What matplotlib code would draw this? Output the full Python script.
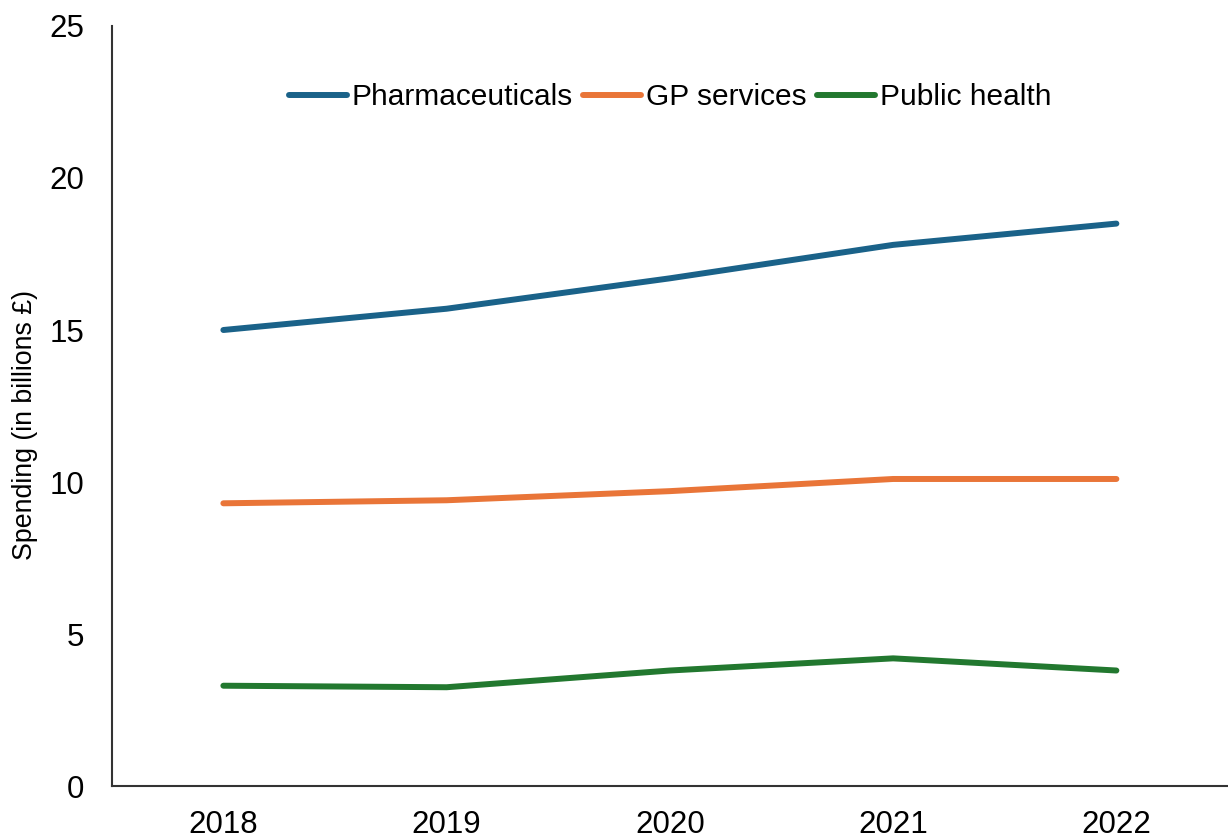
import matplotlib
matplotlib.use("Agg")
import matplotlib.pyplot as plt

years = ['2018', '2019', '2020', '2021', '2022']
pharmaceuticals = [15.0, 15.7, 16.7, 17.8, 18.5]
gp_services = [9.3, 9.4, 9.7, 10.1, 10.1]
public_health = [3.3, 3.25, 3.8, 4.2, 3.8]

plt.rcParams['font.family'] = ['Liberation Sans', 'DejaVu Sans']

fig = plt.figure(figsize=(12.28, 8.38), dpi=100)
ax = fig.add_axes([0.091, 0.062, 0.909, 0.907])

x = range(len(years))
ax.plot(x, pharmaceuticals, color='#1A6289', lw=4.3, label='Pharmaceuticals', solid_capstyle='round')
ax.plot(x, gp_services, color='#E97538', lw=4.3, label='GP services', solid_capstyle='round')
ax.plot(x, public_health, color='#22782F', lw=4.3, label='Public health', solid_capstyle='round')

ax.set_xlim(-0.5, 4.5)
ax.set_ylim(0, 25)
ax.set_xticks(list(x))
ax.set_xticklabels(years)
ax.set_yticks([0, 5, 10, 15, 20, 25])
ax.tick_params(length=0, labelsize=22.5)
ax.tick_params(axis='x', pad=17)
ax.tick_params(axis='y', pad=20)
ax.spines['top'].set_visible(False)
ax.spines['right'].set_visible(False)
for s in ['left', 'bottom']:
    ax.spines[s].set_color('#333333')
    ax.spines[s].set_linewidth(1.5)
ax.set_ylabel('Spending (in billions £)', fontsize=19.3)
ax.yaxis.set_label_coords(-0.066, 0.475)

ax.legend(loc='upper center', bbox_to_anchor=(0.5, 0.96), ncol=3, frameon=False,
          fontsize=21.5, handlelength=1.95, handletextpad=0.15, columnspacing=0.35)

fig.savefig('out.png', dpi=100)
